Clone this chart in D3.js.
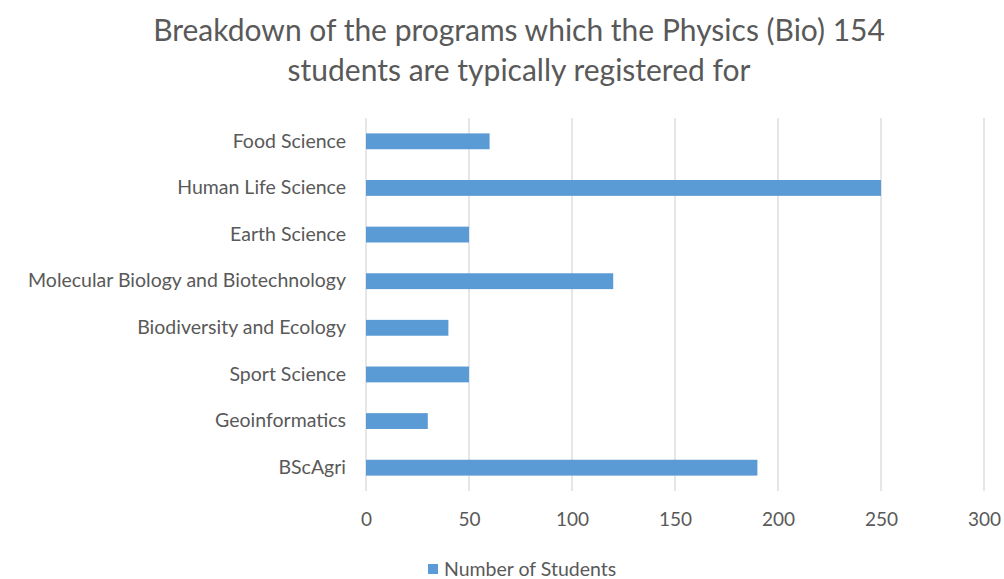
<!DOCTYPE html>
<html>
<head>
<meta charset="utf-8">
<script src="https://cdn.jsdelivr.net/npm/d3@7"></script>
<style>
  body { margin: 0; background: #fff; }
  svg { display: block; font-family: Lato, "Open Sans", sans-serif; }
</style>
</head>
<body>
<svg id="chart" width="1004" height="579"></svg>
<script>
// ---- Data ----
const categories = [
  "Food Science",
  "Human Life Science",
  "Earth Science",
  "Molecular Biology and Biotechnology",
  "Biodiversity and Ecology",
  "Sport Science",
  "Geoinformatics",
  "BScAgri"
];
const students = [60, 250, 50, 120, 40, 50, 30, 190];
const xTicks = [0, 50, 100, 150, 200, 250, 300];
const titleLines = [
  "Breakdown of the programs which the Physics (Bio) 154",
  "students are typically registered for"
];
const seriesName = "Number of Students";

const barColor = "#5b9bd5";
const textColor = "#595959";

const svg = d3.select("#chart");

// plot area
const plotLeft = 366, plotRight = 984, plotTop = 118, plotBottom = 491;

const x = d3.scaleLinear().domain([0, 300]).range([plotLeft, plotRight]);
const y = d3.scaleBand().domain(categories).range([plotTop, plotBottom]).paddingInner(0.66).paddingOuter(0.33);

// title
svg.append("g").selectAll("text")
  .data(titleLines)
  .join("text")
  .attr("x", 519)
  .attr("y", (d, i) => 41 + i * 40)
  .attr("text-anchor", "middle")
  .attr("fill", textColor)
  .attr("font-size", 30)
  .text(d => d);

// gridlines
svg.append("g").selectAll("line")
  .data(xTicks)
  .join("line")
  .attr("x1", d => x(d)).attr("x2", d => x(d))
  .attr("y1", plotTop).attr("y2", plotBottom)
  .attr("stroke", "#d9d9d9")
  .attr("stroke-width", 1.3);

// x axis labels
const xAxis = d3.axisBottom(x).tickValues(xTicks).tickSize(0).tickPadding(0);
const gx = svg.append("g")
  .attr("transform", `translate(0,${plotBottom + 21})`)
  .call(xAxis);
gx.select(".domain").remove();
gx.selectAll("text")
  .attr("fill", textColor)
  .attr("font-size", 19)
  .attr("font-family", "Lato, sans-serif");

// y axis labels
const yAxis = d3.axisLeft(y).tickSize(0).tickPadding(20);
const gy = svg.append("g")
  .attr("transform", `translate(${plotLeft},0)`)
  .call(yAxis);
gy.select(".domain").remove();
gy.selectAll("text")
  .attr("fill", textColor)
  .attr("font-size", 19.5)
  .attr("font-family", "Lato, sans-serif");

// bars
svg.append("g").selectAll("rect")
  .data(categories)
  .join("rect")
  .attr("x", x(0))
  .attr("y", d => y(d))
  .attr("width", (d, i) => x(students[i]) - x(0))
  .attr("height", y.bandwidth())
  .attr("fill", barColor);

// legend
const lg = svg.append("g").attr("transform", "translate(428,564)");
lg.append("rect").attr("width", 10).attr("height", 10).attr("fill", barColor);
lg.append("text")
  .attr("x", 16).attr("y", 5)
  .attr("dy", "0.35em")
  .attr("fill", textColor)
  .attr("font-size", 19.5)
  .text(seriesName);
</script>
</body>
</html>
